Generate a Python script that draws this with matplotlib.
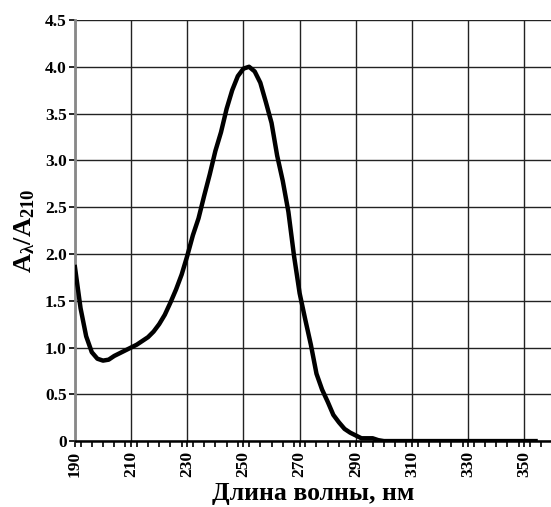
import numpy as np
import matplotlib.pyplot as plt
from matplotlib.ticker import MultipleLocator, FuncFormatter

plt.rcParams['font.family'] = 'Liberation Serif'
plt.rcParams['font.weight'] = 'bold'
plt.rcParams['mathtext.fontset'] = 'custom'
plt.rcParams['mathtext.rm'] = 'Liberation Serif:bold'
plt.rcParams['mathtext.bf'] = 'Liberation Serif:bold'
plt.rcParams['mathtext.it'] = 'Liberation Serif:bold'

# Спектр (длина волны, нм / относительное поглощение)
wl_1 = [190, 192, 194, 196, 198, 200, 202, 204, 206, 208, 210, 212, 214, 216,
        218, 220, 222, 224, 226, 228, 230, 232, 234, 236, 238, 240, 242, 244,
        246, 248, 250, 252, 254, 256, 258, 260, 262, 264, 266, 268, 270, 272,
        274, 276, 278, 280, 282, 284, 286, 288, 290, 292, 294, 296, 298]
ratio_1 = [1.86, 1.42, 1.12, 0.95, 0.88, 0.86, 0.87, 0.91, 0.94, 0.97, 1.00,
           1.03, 1.07, 1.11, 1.17, 1.25, 1.35, 1.48, 1.62, 1.78, 1.98, 2.20,
           2.38, 2.62, 2.85, 3.10, 3.30, 3.55, 3.75, 3.90, 3.98, 4.00, 3.95,
           3.83, 3.62, 3.40, 3.05, 2.78, 2.45, 1.98, 1.58, 1.30, 1.03, 0.72,
           0.55, 0.42, 0.28, 0.20, 0.13, 0.09, 0.06, 0.03, 0.03, 0.03, 0.01]
wl_2 = [300, 310, 320, 330, 340, 350, 354]
ratio_2 = [0, 0, 0, 0, 0, 0, 0]

wl = wl_1 + wl_2
ratio = ratio_1 + ratio_2
x_major = np.arange(190, 360, 20)

fig = plt.figure(figsize=(5.51, 5.07), dpi=100)
ax = fig.add_axes([0.136, 0.130, 0.864, 0.8306])

ax.plot(wl, ratio, color='black', lw=3.2, solid_joinstyle='round', zorder=3)

ax.set_xlim(190, 359.5)
ax.set_ylim(0, 4.5)
ax.set_xticks(x_major)
ax.xaxis.set_minor_locator(MultipleLocator(4))
ax.yaxis.set_major_locator(MultipleLocator(0.5))
ax.yaxis.set_major_formatter(FuncFormatter(lambda v, p: '0' if v == 0 else f'{v:.1f}'))

ax.grid(True, which='major', color='#222222', lw=1.0)
for s in ['top', 'right']:
    ax.spines[s].set_visible(False)
ax.spines['left'].set_color('#888888')
ax.spines['left'].set_linewidth(2)
ax.spines['bottom'].set_linewidth(1.8)
ax.spines['bottom'].set_zorder(4)

ax.tick_params(axis='x', which='both', direction='out', length=4, width=1.2, labelsize=12.5, pad=3)
ax.tick_params(axis='x', which='major', labelrotation=90)
ax.tick_params(axis='y', which='major', direction='out', length=4, width=1.2, labelsize=12.5, pad=2)
for lab in ax.get_xticklabels() + ax.get_yticklabels():
    lab.set_fontweight('bold')

ax.set_xlabel('Длина волны, нм', fontsize=18.5, fontweight='bold', labelpad=4)
ax.set_ylabel(r'$\mathbf{A_{\lambda}/A_{210}}$', fontsize=19, labelpad=6)

fig.savefig('out.png', dpi=100)
